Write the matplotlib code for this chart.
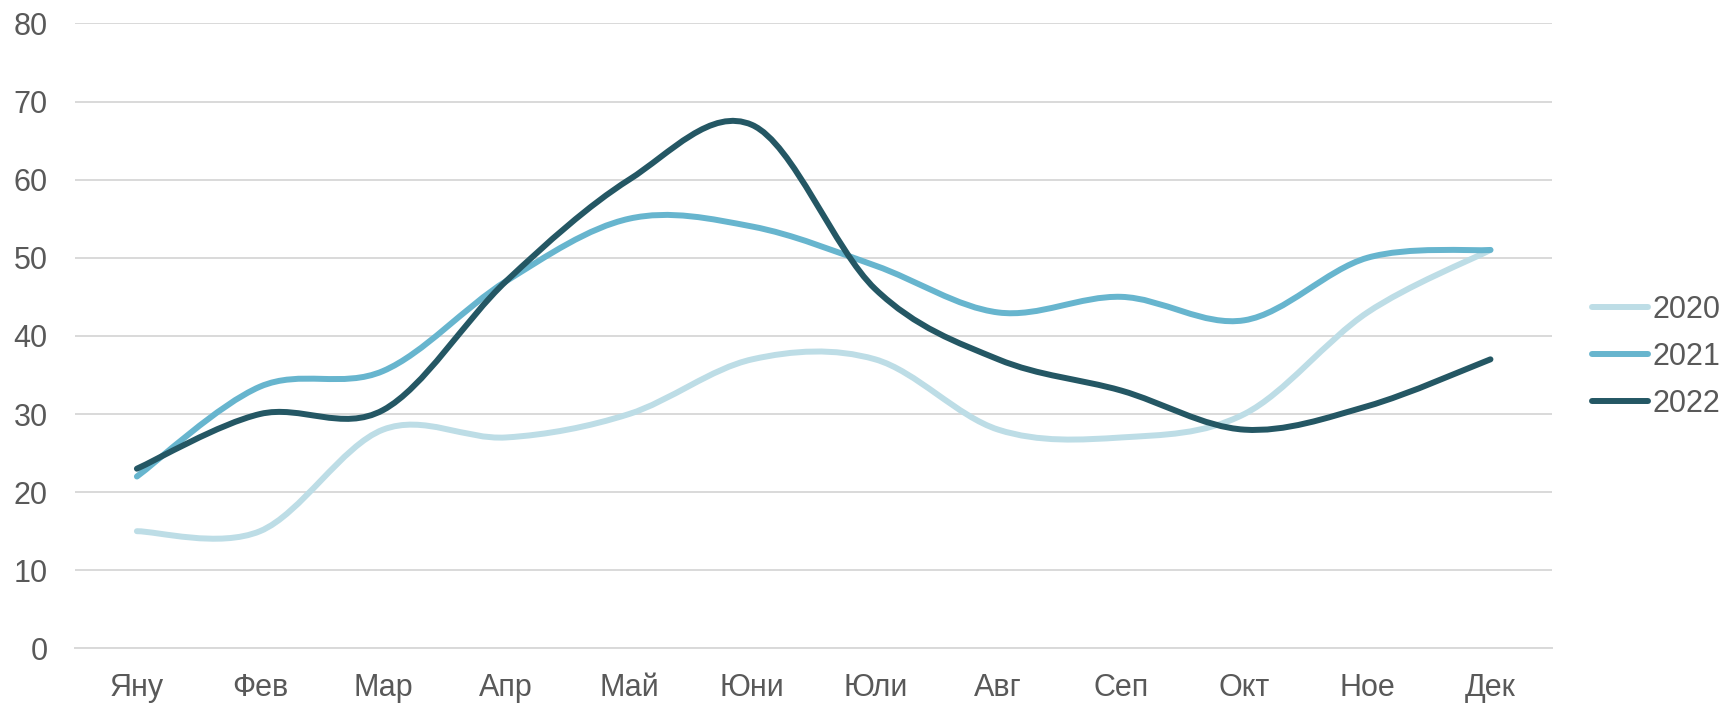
import matplotlib
matplotlib.use("Agg")
import matplotlib.pyplot as plt
import numpy as np
from matplotlib.path import Path
from matplotlib.patches import PathPatch
from matplotlib.lines import Line2D

months = ["Яну", "Фев", "Мар", "Апр", "Май", "Юни", "Юли", "Авг", "Сеп", "Окт", "Ное", "Дек"]
series_names = ["2020", "2021", "2022"]
values_2020 = [15, 15, 28, 27, 30, 37, 37, 28, 27, 30, 43, 51]
values_2021 = [22, 33.5, 35.5, 47, 55, 54, 49, 43, 45, 42, 50, 51]
values_2022 = [23, 30, 30.5, 47, 60, 67, 46, 37, 33, 28, 31, 37]
colors = ["#BDDDE6", "#67B5CE", "#245764"]

plt.rcParams['font.family'] = ['Liberation Sans', 'DejaVu Sans']

fig = plt.figure(figsize=(17.25, 7.05), dpi=100)
ax = fig.add_axes([0.0437, 0.0803, 0.8560, 0.8865])


def smooth_path(xs, ys):
    xs = np.asarray(xs, float)
    ys = np.asarray(ys, float)
    n = len(xs)
    verts = [(xs[0], ys[0])]
    codes = [Path.MOVETO]
    for i in range(n - 1):
        i0 = max(i - 1, 0)
        i3 = min(i + 2, n - 1)
        c1 = (xs[i] + (xs[i + 1] - xs[i0]) / 6, ys[i] + (ys[i + 1] - ys[i0]) / 6)
        c2 = (xs[i + 1] - (xs[i3] - xs[i]) / 6, ys[i + 1] - (ys[i3] - ys[i]) / 6)
        verts += [c1, c2, (xs[i + 1], ys[i + 1])]
        codes += [Path.CURVE4] * 3
    return Path(verts, codes)


x = np.arange(len(months))
handles = []
for vals, col, name in zip([values_2020, values_2021, values_2022], colors, series_names):
    p = smooth_path(x, vals)
    patch = PathPatch(p, facecolor='none', edgecolor=col, lw=4.3, capstyle='round', joinstyle='round', zorder=3)
    ax.add_patch(patch)
    handles.append(Line2D([], [], color=col, lw=4.3, solid_capstyle='round', label=name))

ax.set_xlim(-0.5, len(months) - 0.5)
ax.set_ylim(0, 80)
ax.set_yticks(np.arange(0, 81, 10))
ax.set_xticks(x)
ax.set_xticklabels(months)
ax.grid(axis='y', color='#D9D9D9', lw=1.4)
ax.set_axisbelow(True)
for s in ['top', 'right', 'left']:
    ax.spines[s].set_visible(False)
ax.spines['bottom'].set_color('#D9D9D9')
ax.spines['bottom'].set_linewidth(1.4)
ax.tick_params(axis='both', length=0, labelsize=22, labelcolor='#595959')
ax.tick_params(axis='y', pad=20)
ax.tick_params(axis='x', pad=17.5)

fig.legend(handles=handles, loc='center left', bbox_to_anchor=(0.9229, 0.494),
           frameon=False, fontsize=22, handlelength=1.84, handletextpad=0.13,
           labelspacing=0.55, borderpad=0, borderaxespad=0, labelcolor='#595959')

fig.savefig("out.png", dpi=100)
